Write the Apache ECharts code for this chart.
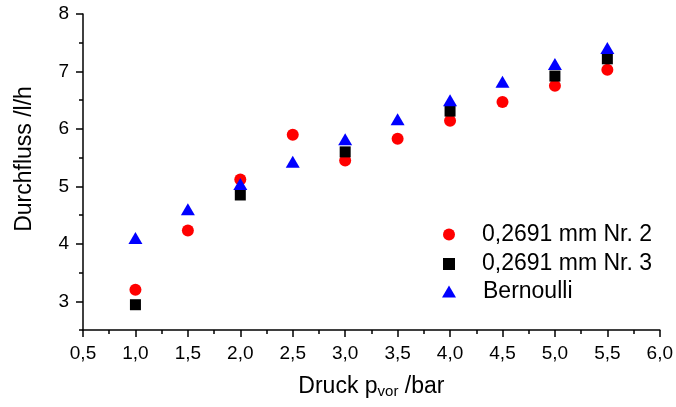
<!DOCTYPE html>
<html>
<head>
<meta charset="utf-8">
<script src="https://cdn.jsdelivr.net/npm/echarts@6/dist/echarts.min.js"></script>
<style>
  html, body { margin: 0; padding: 0; background: #fff; }
  #chart { width: 676px; height: 407px; }
</style>
</head>
<body>
<div id="chart"></div>
<script>
// Inlet pressure (bar) and measured / calculated flow (l/h)
const pressureNr2 = [1.0, 1.5, 2.0, 2.5, 3.0, 3.5, 4.0, 4.5, 5.0, 5.5];
const flowNr2     = [3.20, 4.23, 5.12, 5.90, 5.45, 5.83, 6.14, 6.47, 6.75, 7.03];

const pressureNr3 = [1.0, 2.0, 3.0, 4.0, 5.0, 5.5];
const flowNr3     = [2.94, 4.85, 5.60, 6.31, 6.92, 7.22];

const pressureBern = [1.0, 1.5, 2.0, 2.5, 3.0, 3.5, 4.0, 4.5, 5.0, 5.5];
const flowBern     = [4.10, 4.60, 5.04, 5.43, 5.82, 6.17, 6.50, 6.82, 7.13, 7.41];

const seriesNames = ['0,2691 mm Nr. 2', '0,2691 mm Nr. 3', 'Bernoulli'];

// Axis ranges and tick positions
const xRange = [0.5, 6.0];
const yRange = [2.5, 8.0];
const yMajorTicks = [3, 4, 5, 6, 7, 8];

const FONT = '"Liberation Sans", Arial, sans-serif';
const pairs = (xs, ys) => xs.map((x, i) => [x, ys[i]]);
const comma1 = v => v.toFixed(1).replace('.', ',');

const chart = echarts.init(document.getElementById('chart'), null, { renderer: 'canvas' });

const legendBase = {
  orient: 'vertical',
  left: 443,
  padding: 0,
  itemGap: 0,
  selectedMode: false,
  textStyle: { fontFamily: FONT, fontSize: 23, color: '#000', padding: [0, 0, 0, 22] }
};

chart.setOption({
  animation: false,
  backgroundColor: '#fff',
  grid: { left: 83, right: 15, top: 14, bottom: 77, containLabel: false },
  legend: [
    Object.assign({}, legendBase, { top: 223, itemWidth: 12, itemHeight: 12, data: [seriesNames[0]] }),
    Object.assign({}, legendBase, { top: 252.5, itemWidth: 12, itemHeight: 12, data: [seriesNames[1]] }),
    Object.assign({}, legendBase, { left: 442, top: 280, itemWidth: 14, itemHeight: 12,
      textStyle: Object.assign({}, legendBase.textStyle, { padding: [0, 0, 0, 22] }), data: [seriesNames[2]] })
  ],
  xAxis: {
    type: 'value',
    min: xRange[0], max: xRange[1], interval: 0.5,
    name: 'Druck p{sub|vor} /bar',
    nameLocation: 'middle',
    nameGap: 44,
    nameTextStyle: {
      fontFamily: FONT, fontSize: 23, color: '#000',
      rich: { sub: { fontFamily: FONT, fontSize: 15, color: '#000', padding: [10, 0, 0, 0] } }
    },
    axisLine: { show: true, onZero: false, lineStyle: { color: '#000', width: 1.5 } },
    axisTick: { show: true, inside: false, length: 7, lineStyle: { color: '#000', width: 1.5 } },
    minorTick: { show: true, splitNumber: 2, length: 4, lineStyle: { color: '#000', width: 1.5 } },
    axisLabel: { fontFamily: FONT, fontSize: 19, color: '#000', margin: 14, formatter: comma1 },
    splitLine: { show: false }
  },
  yAxis: [
    {
      type: 'value',
      min: yRange[0], max: yRange[1],
      name: 'Durchfluss /l/h',
      nameLocation: 'middle',
      nameGap: 47,
      nameTextStyle: { fontFamily: FONT, fontSize: 23, color: '#000', padding: [0, 0, 0, 26] },
      axisLine: { show: true, onZero: false, lineStyle: { color: '#000', width: 1.5 } },
      axisTick: { show: true, inside: false, length: 7, customValues: yMajorTicks,
        lineStyle: { color: '#000', width: 1.5 } },
      axisLabel: { fontFamily: FONT, fontSize: 19, color: '#000', margin: 14,
        customValues: yMajorTicks, formatter: v => String(v) },
      splitLine: { show: false }
    },
    {
      // half-unit minor ticks on the same scale
      type: 'value',
      position: 'left',
      min: yRange[0], max: yRange[1], interval: 0.5,
      axisLine: { show: false },
      axisTick: { show: true, inside: false, length: 4, lineStyle: { color: '#000', width: 1.5 } },
      axisLabel: { show: false },
      splitLine: { show: false }
    }
  ],
  series: [
    {
      name: seriesNames[0], type: 'scatter',
      symbol: 'circle', symbolSize: 12,
      itemStyle: { color: '#ff0000', opacity: 1 },
      data: pairs(pressureNr2, flowNr2), z: 2
    },
    {
      name: seriesNames[1], type: 'scatter',
      symbol: 'rect', symbolSize: 11,
      itemStyle: { color: '#000000', opacity: 1 },
      data: pairs(pressureNr3, flowNr3), z: 3
    },
    {
      name: seriesNames[2], type: 'scatter',
      symbol: 'triangle', symbolSize: [14, 12],
      itemStyle: { color: '#0000ff', opacity: 1 },
      data: pairs(pressureBern, flowBern), z: 4
    }
  ]
});
</script>
</body>
</html>
